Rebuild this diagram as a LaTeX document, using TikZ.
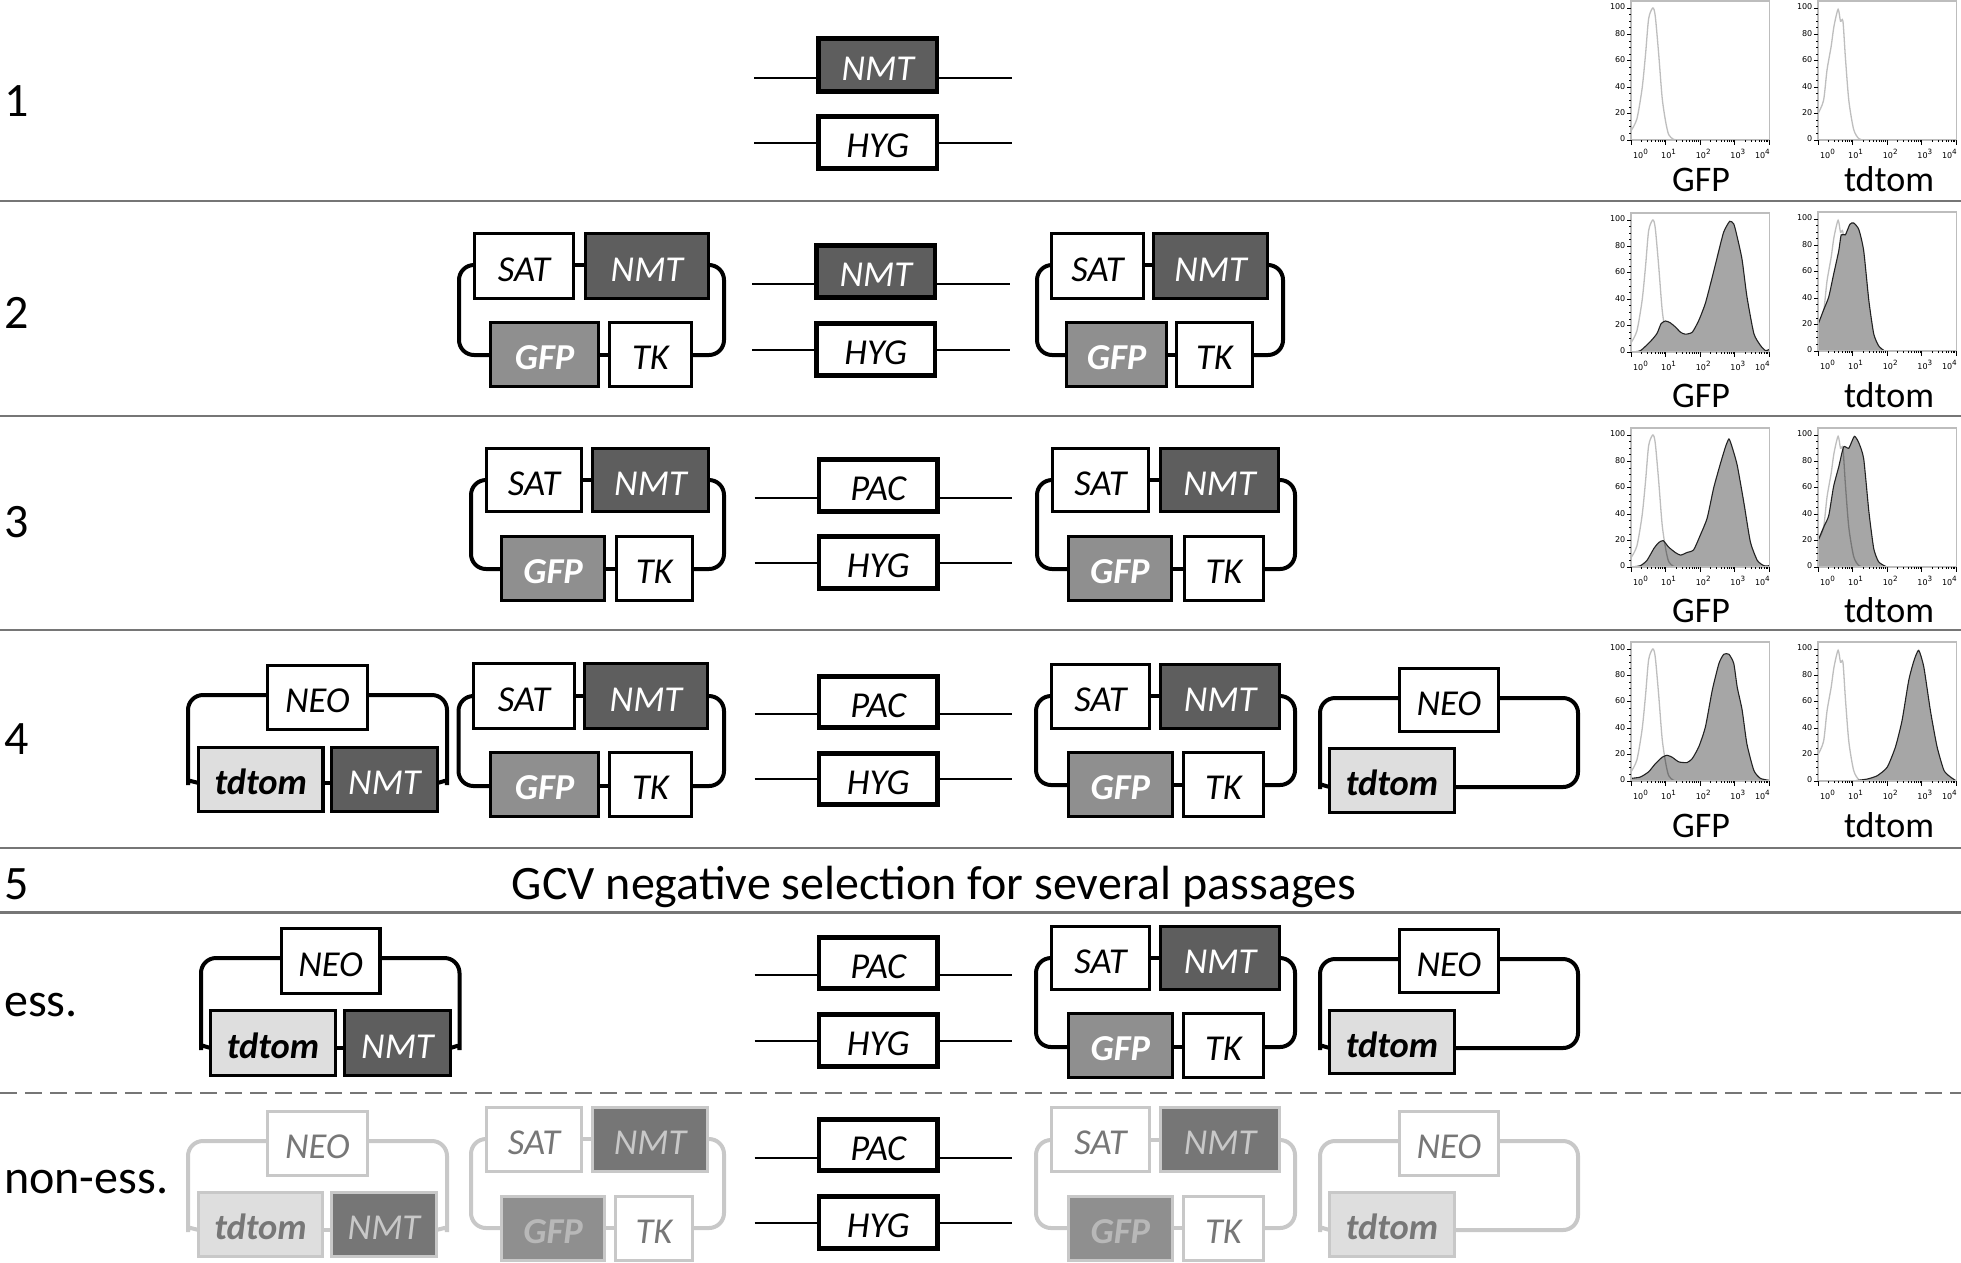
\documentclass[tikz,border=0pt]{standalone}
\usepackage{fontspec}
\setmainfont[Ligatures={Common,Rare}]{Carlito}
\newfontfamily\axisfont{DejaVu Sans}
\tikzset{
  x=1pt,y=-1pt,
  geneplain/.style={draw=black,fill=white,text=black,line width=3.4pt,inner sep=0pt,outer sep=0pt,text height=30pt,text depth=0pt,font=\fontsize{36.5}{40}\selectfont\itshape},
  genenmt/.style={geneplain,fill=nmtgrey,text=white},
  genegfp/.style={geneplain,fill=gfpgrey,text=white,font=\fontsize{36.5}{40}\selectfont\itshape\bfseries},
  genetd/.style={geneplain,fill=tdgrey,text=black,font=\fontsize{36.5}{40}\selectfont\itshape\bfseries},
  cassette/.style={line width=4.5pt},
  fadeplain/.style={geneplain,draw=fadeline,text=fadetext},
  fadenmt/.style={genenmt,draw=fadeline,fill=fadenmtgrey,text=fadeline},
  fadegfp/.style={genegfp,draw=fadeline,text=fadegfptext},
  fadetd/.style={genetd,draw=fadeline,text=fadetext},
  ringline/.style={line width=4pt,rounded corners=15pt,draw=black},
  ringfade/.style={ringline,draw=fadeline},
  wire/.style={line width=2pt,draw=black},
  divider/.style={line width=2.4pt,draw=rulegrey},
  dashdivider/.style={line width=2.4pt,draw=rulegrey,dash pattern=on 17pt off 8pt},
  rowlabel/.style={anchor=base west,inner sep=0pt,font=\fontsize{48}{52}\selectfont},
  banner/.style={anchor=base,inner sep=0pt,font=\fontsize{48}{52}\selectfont},
  channel/.style={anchor=base,inner sep=0pt,font=\fontsize{36}{40}\selectfont},
  ticknum/.style={inner sep=0pt,font=\axisfont\fontsize{8}{9}\selectfont},
  frameline/.style={line width=1.1pt,draw=framegrey},
  tickline/.style={line width=.8pt,draw=black},
  control/.style={line width=1.3pt,draw=ctrlgrey},
  controlunder/.style={line width=1.3pt,draw=overgrey},
  histfill/.style={fill=fillgrey,draw=none},
  histedge/.style={line width=1.1pt,draw=edgegrey},
}
\definecolor{nmtgrey}{HTML}{5E5E5E}
\definecolor{gfpgrey}{HTML}{8F8F8F}
\definecolor{tdgrey}{HTML}{DEDEDE}
\definecolor{fadeline}{HTML}{C8C8C8}
\definecolor{fadetext}{HTML}{777777}
\definecolor{fadenmtgrey}{HTML}{767676}
\definecolor{fadegfptext}{HTML}{B8B8B8}
\definecolor{rulegrey}{HTML}{767676}
\definecolor{framegrey}{HTML}{BDBDBD}
\definecolor{ctrlgrey}{HTML}{BEBEBE}
\definecolor{overgrey}{HTML}{777777}
\definecolor{fillgrey}{HTML}{A6A6A6}
\definecolor{edgegrey}{HTML}{222222}

% a gene box given by the left, right, top and bottom edges of its outline
\newcommand{\gene}[7][geneplain]{%
  \pgfmathsetmacro{\gcx}{(#3+#4)/2}\pgfmathsetmacro{\gcy}{(#5+#6)/2}%
  \pgfmathsetmacro{\gw}{#4-#3-1.4}\pgfmathsetmacro{\gh}{#6-#5-1.4}%
  \node[#1,minimum width=\gw pt,minimum height=\gh pt] (#2) at (\gcx,\gcy) {#7};}
% resistance cassette with flanking wires; #7 places the wire on the box height
\newcommand{\cassettebox}[7][geneplain]{%
  \gene[#1,cassette]{#2}{#3+0}{#3+119.5}{#4}{#5}{#6}%
  \pgfmathsetmacro{\wy}{#4+(#5-#4)*#7}%
  \coordinate (#2-wl) at (#3-64,\wy);\coordinate (#2-wr) at (#3+193.5,\wy);%
  \draw[wire] (#2-wl) -- (#2.west |- #2-wl);\draw[wire] (#2.east |- #2-wr) -- (#2-wr);}
% ring joining SAT, NMT, GFP and TK
\newcommand{\satring}[6]{%
  \coordinate (#1-tl) at (#3,#4);\coordinate (#1-bl) at (#3,#6);
  \coordinate (#1-tr) at (#5,#4);\coordinate (#1-br) at (#5,#6);
  \draw[#2] (#1-sat.west |- #1-tl) -- (#1-tl) -- (#1-bl) -- (#1-gfp.west |- #1-bl);
  \draw[#2] (#1-nmt.east |- #1-tr) -- (#1-tr) -- (#1-br) -- (#1-tk.east |- #1-br);
  \draw[#2] (#1-sat.east |- #1-tl) -- (#1-nmt.west |- #1-tl);
  \draw[#2] (#1-gfp.east |- #1-bl) -- (#1-tk.west |- #1-bl);}
% ring joining NEO, tdtom and NMT; the lower ends bend into the box sides
\newcommand{\neoring}[6]{%
  \coordinate (#1-tl) at (#3,#4);\coordinate (#1-bl) at (#3,#6);
  \coordinate (#1-tr) at (#5,#4);\coordinate (#1-br) at (#5,#6);
  \draw[#2] (#1-neo.west |- #1-tl) -- (#1-tl) -- ([yshift=13pt]#1-bl) .. controls ([yshift=5pt]#1-bl) and ([xshift=4pt,yshift=1pt]#1-bl) .. (#1-td.west |- #1-bl);
  \draw[#2] (#1-neo.east |- #1-tr) -- (#1-tr) -- ([yshift=13pt]#1-br) .. controls ([yshift=5pt]#1-br) and ([xshift=-4pt,yshift=1pt]#1-br) .. (#1-nmt.east |- #1-br);
  \draw[#2] (#1-td.east |- #1-bl) -- (#1-nmt.west |- #1-bl);}
% ring joining NEO and tdtom
\newcommand{\neotdring}[6]{%
  \coordinate (#1-tl) at (#3,#4);\coordinate (#1-bl) at (#3,#6);
  \coordinate (#1-tr) at (#5,#4);\coordinate (#1-br) at (#5,#6);
  \draw[#2] (#1-neo.west |- #1-tl) -- (#1-tl) -- ([yshift=13pt]#1-bl) .. controls ([yshift=5pt]#1-bl) and ([xshift=4pt,yshift=1pt]#1-bl) .. (#1-td.west |- #1-bl);
  \draw[#2] (#1-neo.east |- #1-tr) -- (#1-tr) -- (#1-br) -- (#1-td.east |- #1-br);}

% histogram frame, axes and tick labels; origin at the axis corner
\newcommand{\histframe}[3]{%
  \begin{scope}[shift={(#2,#3)}]
    \draw[frameline] (0,0) rectangle (138.5,-139);
    \foreach \k in {0,...,4}{%
      \pgfmathsetmacro{\tx}{\k*34.6}%
      \draw[tickline] (\tx,0) -- (\tx,4.5);}
    \foreach \k in {0,...,3}{\foreach \m in {2,...,9}{%
      \pgfmathsetmacro{\tx}{(\k+log10(\m))*34.6}%
      \draw[tickline] (\tx,0) -- (\tx,2.2);}}
    \foreach \p in {0,20,...,100}{%
      \pgfmathsetmacro{\ty}{-\p*1.32}%
      \draw[tickline] (0,\ty) -- (-4.5,\ty);
      \node[ticknum,anchor=east] (#1-y\p) at (-5.5,\ty-1) {\p};}
    \foreach \p in {5,10,...,100}{%
      \pgfmathsetmacro{\ty}{-\p*1.32}%
      \draw[tickline] (0,\ty) -- (-2.2,\ty);}
    \foreach \k/\off in {0/9.5,1/3,2/3,3/3,4/-7}{%
      \pgfmathsetmacro{\tx}{\k*34.6+\off}%
      \node[ticknum] (#1-x\k) at (\tx,14) {10\raisebox{4.6pt}{\fontsize{7.2}{8}\selectfont\k}};}
  \end{scope}}
% control curves (untransfected cells), in percent over decades
\newcommand{\gfpcurve}{plot[smooth,tension=.45] coordinates {(0,7) (.17,16) (.32,39) (.42,65) (.51,92) (.63,100) (.70,94) (.80,65) (.90,32) (1.0,14) (1.09,4) (1.23,.5) (1.38,0)}}
\newcommand{\tdcurve}{plot[smooth,tension=.45] coordinates {(0,20) (.16,30) (.26,53) (.38,71) (.46,86) (.58,99) (.65,90) (.72,90) (.79,63) (.89,30) (1.03,8) (1.18,1) (1.32,0)}}
\tikzset{histaxes/.style={x=34.6pt,y=1.32pt}}
\newcommand{\ctrlgfp}[2]{\begin{scope}[shift={(#1,#2)},histaxes]\draw[control] \gfpcurve;\end{scope}}
\newcommand{\ctrltd}[2]{\begin{scope}[shift={(#1,#2)},histaxes]\draw[control] \tdcurve;\end{scope}}
% filled sample histogram; #3 is the control curve shown through it, or \relax
\newcommand{\sample}[4]{%
  \begin{scope}[shift={(#1,#2)},histaxes]
    \fill[histfill] (0,0) -- plot[smooth,tension=.35] coordinates {#4} -- (4,0) -- cycle;
    \ifx#3\relax\else
    \begin{scope}
      \clip (0,0) -- plot[smooth,tension=.35] coordinates {#4} -- (4,0) -- cycle;
      \draw[controlunder] #3;
    \end{scope}
    \fi
    \draw[histedge] plot[smooth,tension=.35] coordinates {#4};
  \end{scope}}

\begin{document}
\begin{tikzpicture}
\useasboundingbox (0,0) rectangle (1961,1262);
\fill[white] (0,0) rectangle (1961,1262);

% row dividers
\foreach \n/\yy in {a/201,b/416,c/630,d/848,e/912.5}{%
  \coordinate (rule\n l) at (0,\yy);\coordinate (rule\n r) at (1961,\yy);
  \draw[divider] (rule\n l) -- (rule\n r);}
\coordinate (dashl) at (0,1093);\coordinate (dashr) at (1961,1093);
\draw[dashdivider] (dashl) -- (dashr);

% row labels
\node[rowlabel] (lab1) at (4,116) {1};
\node[rowlabel] (lab2) at (4,328) {2};
\node[rowlabel] (lab3) at (4,537) {3};
\node[rowlabel] (lab4) at (4,754) {4};
\node[rowlabel] (lab5) at (4,899) {5};
\node[rowlabel] (labess) at (4,1016) {ess.};
\node[rowlabel] (labnon) at (4,1193) {non-ess.};
\node[banner] (gcv) at (934,899) {GCV negative selec\kern0pt tion for several passages};

% row 1
\cassettebox[genenmt]{a1}{818}{38}{92}{NMT}{.74}
\cassettebox{a2}{818}{116}{169}{HYG}{.5}

% row 2
\gene{b1-sat}{474}{574}{233}{299}{SAT}
\gene[genenmt]{b1-nmt}{585}{709}{233}{299}{NMT}
\gene[genegfp]{b1-gfp}{490}{599}{322}{387}{GFP}
\gene{b1-tk}{609}{692}{322}{387}{TK}
\satring{b1}{ringline}{459}{265}{724}{355}
\cassettebox[genenmt]{b2}{816}{245}{298}{NMT}{.74}
\cassettebox{b3}{816}{323}{376}{HYG}{.5}
\gene{b4-sat}{1051}{1144}{233}{299}{SAT}
\gene[genenmt]{b4-nmt}{1153}{1268}{233}{299}{NMT}
\gene[genegfp]{b4-gfp}{1066}{1167}{322}{387}{GFP}
\gene{b4-tk}{1176}{1253}{322}{387}{TK}
\satring{b4}{ringline}{1037}{265}{1283}{355}

% row 3
\gene{c1-sat}{486}{582}{448}{512}{SAT}
\gene[genenmt]{c1-nmt}{592}{709}{448}{512}{NMT}
\gene[genegfp]{c1-gfp}{501}{605}{536}{601}{GFP}
\gene{c1-tk}{615.5}{693}{536}{601}{TK}
\satring{c1}{ringline}{471}{480}{724}{569}
\cassettebox{c2}{818.5}{459}{512}{PAC}{.74}
\cassettebox{c3}{818.5}{536}{589}{HYG}{.5}
\gene{c4-sat}{1052}{1149}{448}{512}{SAT}
\gene[genenmt]{c4-nmt}{1160}{1279}{448}{512}{NMT}
\gene[genegfp]{c4-gfp}{1067.5}{1172}{536}{601}{GFP}
\gene{c4-tk}{1184}{1264}{536}{601}{TK}
\satring{c4}{ringline}{1037}{480}{1295}{569}

% row 4
\gene{d0-neo}{267}{368}{665}{730}{NEO}
\gene[genetd]{d0-td}{198}{323.5}{747}{812}{tdtom}
\gene[genenmt]{d0-nmt}{331}{438}{747}{812}{NMT}
\neoring{d0}{ringline}{188}{695}{447}{783}
\gene{d1-sat}{473}{575}{663}{729}{SAT}
\gene[genenmt]{d1-nmt}{584}{708}{663}{729}{NMT}
\gene[genegfp]{d1-gfp}{490}{599}{752}{817}{GFP}
\gene{d1-tk}{609}{692}{752}{817}{TK}
\satring{d1}{ringline}{458.5}{696}{724}{786}
\cassettebox{d2}{818.5}{676}{728}{PAC}{.74}
\cassettebox{d3}{818.5}{753}{805}{HYG}{.5}
\gene{d4-sat}{1051}{1150}{664}{729}{SAT}
\gene[genenmt]{d4-nmt}{1160}{1280}{664}{729}{NMT}
\gene[genegfp]{d4-gfp}{1067.5}{1173}{752}{817}{GFP}
\gene{d4-tk}{1183}{1264}{752}{817}{TK}
\satring{d4}{ringline}{1036}{696}{1295}{785}
\gene{d5-neo}{1399}{1499}{668}{732}{NEO}
\gene[genetd]{d5-td}{1329}{1455}{748}{813}{tdtom}
\neotdring{d5}{ringline}{1320}{698}{1578}{787}

% essential gene outcome
\gene{e0-neo}{281}{380.5}{928}{994}{NEO}
\gene[genetd]{e0-td}{210}{336}{1010}{1076}{tdtom}
\gene[genenmt]{e0-nmt}{344}{451}{1010}{1076}{NMT}
\neoring{e0}{ringline}{201}{958}{459.5}{1048}
\cassettebox{e2}{818.5}{937}{989}{PAC}{.74}
\cassettebox{e3}{818.5}{1014}{1067}{HYG}{.5}
\gene{e4-sat}{1051}{1150}{926}{990}{SAT}
\gene[genenmt]{e4-nmt}{1160}{1280}{926}{990}{NMT}
\gene[genegfp]{e4-gfp}{1067.5}{1173}{1013}{1078}{GFP}
\gene{e4-tk}{1183}{1264}{1013}{1078}{TK}
\satring{e4}{ringline}{1036}{958}{1295}{1047}
\gene{e5-neo}{1399}{1499}{929}{993}{NEO}
\gene[genetd]{e5-td}{1329}{1455}{1010}{1074}{tdtom}
\neotdring{e5}{ringline}{1320}{959}{1578}{1048}

% non-essential gene outcome: lost constructs in pale grey
\gene[fadeplain]{f0-neo}{267}{368}{1111}{1176}{NEO}
\gene[fadetd]{f0-td}{198}{323}{1192}{1257}{tdtom}
\gene[fadenmt]{f0-nmt}{331}{437}{1192}{1257}{NMT}
\neoring{f0}{ringfade}{188}{1141}{447}{1230}
\gene[fadeplain]{f1-sat}{486}{582}{1107}{1172}{SAT}
\gene[fadenmt]{f1-nmt}{592}{708}{1107}{1172}{NMT}
\gene[fadegfp]{f1-gfp}{501}{605}{1196}{1261}{GFP}
\gene[fadeplain]{f1-tk}{615}{693}{1196}{1261}{TK}
\satring{f1}{ringfade}{471}{1139}{724}{1228}
\cassettebox{f2}{818.5}{1119}{1171}{PAC}{.74}
\cassettebox{f3}{818.5}{1196}{1249}{HYG}{.5}
\gene[fadeplain]{f4-sat}{1051}{1150}{1107}{1172}{SAT}
\gene[fadenmt]{f4-nmt}{1160}{1280}{1107}{1172}{NMT}
\gene[fadegfp]{f4-gfp}{1067.5}{1173}{1196}{1261}{GFP}
\gene[fadeplain]{f4-tk}{1183}{1264}{1196}{1261}{TK}
\satring{f4}{ringfade}{1036}{1140}{1295}{1228}
\gene[fadeplain]{f5-neo}{1399}{1499}{1111}{1176}{NEO}
\gene[fadetd]{f5-td}{1329}{1455}{1192}{1257}{tdtom}
\neotdring{f5}{ringfade}{1320}{1141}{1578}{1230}

% flow cytometry, row 1
\ctrlgfp{1631}{140}
\histframe{h1g}{1631}{140}
\ctrltd{1818}{140}
\histframe{h1t}{1818}{140}
\node[channel] (n1g) at (1701,191) {GFP};
\node[channel] (n1t) at (1889,191) {tdtom};

% flow cytometry, row 2
\ctrlgfp{1631}{352}
\sample{1631}{352}{\relax}{(0,0) (.27,1) (.56,8) (.75,14) (.87,21.5) (1.0,23.5) (1.14,22) (1.28,19) (1.43,15) (1.57,13.5) (1.77,15) (1.96,24) (2.15,37) (2.35,57) (2.54,77) (2.68,91) (2.85,99) (2.97,97) (3.07,87) (3.21,70) (3.35,42) (3.55,14) (3.74,5) (3.89,1) (4,2)}
\histframe{h2g}{1631}{352}
\ctrltd{1818}{351}
\sample{1818}{351}{\relax}{(0,20) (.16,31) (.31,41) (.45,58) (.6,76) (.67,88) (.79,88) (.92,96) (1.03,97) (1.18,92) (1.32,76) (1.47,38) (1.61,13) (1.75,4) (1.9,.5) (2,0) (4,0)}
\histframe{h2t}{1818}{351}
\node[channel] (n2g) at (1701,407) {GFP};
\node[channel] (n2t) at (1889,407) {tdtom};

% flow cytometry, row 3
\ctrlgfp{1631}{567}
\sample{1631}{567}{\gfpcurve}{(0,0) (.27,1) (.46,5) (.66,14) (.8,18.5) (.93,20) (1.09,15) (1.28,11) (1.43,9) (1.62,11) (1.81,13) (2.0,24) (2.2,37) (2.39,60) (2.58,78) (2.73,91) (2.83,97) (2.92,91) (3.07,77) (3.26,49) (3.45,19) (3.65,5) (3.84,1) (4,1)}
\histframe{h3g}{1631}{567}
\ctrltd{1818}{567}
\sample{1818}{567}{\tdcurve}{(0,20) (.16,30) (.31,39) (.45,61) (.6,76) (.74,91) (.89,90) (1.05,99) (1.18,94) (1.32,82) (1.47,42) (1.61,14) (1.75,4) (1.95,.5) (2.04,0) (4,0)}
\histframe{h3t}{1818}{567}
\node[channel] (n3g) at (1701,622) {GFP};
\node[channel] (n3t) at (1889,622) {tdtom};

% flow cytometry, row 4
\ctrlgfp{1631}{781}
\sample{1631}{781}{\gfpcurve}{(0,2) (.27,3) (.51,7) (.70,13) (.9,18) (1.04,19.5) (1.19,18) (1.38,14.5) (1.62,14) (1.77,17) (1.96,26) (2.15,41) (2.35,69) (2.54,89) (2.68,96) (2.83,96) (2.97,89) (3.07,71) (3.21,54) (3.35,28) (3.55,8) (3.74,2) (4,.5)}
\histframe{h4g}{1631}{781}
\ctrltd{1818}{781}
\sample{1818}{781}{\relax}{(1,0) (1.42,1.5) (1.71,4) (2,10.5) (2.24,26) (2.43,46) (2.62,76) (2.77,91) (2.91,99) (3.06,86) (3.25,53) (3.44,26) (3.64,8) (3.83,3) (4,0)}
\histframe{h4t}{1818}{781}
\node[channel] (n4g) at (1701,837) {GFP};
\node[channel] (n4t) at (1889,837) {tdtom};
\end{tikzpicture}
\end{document}
